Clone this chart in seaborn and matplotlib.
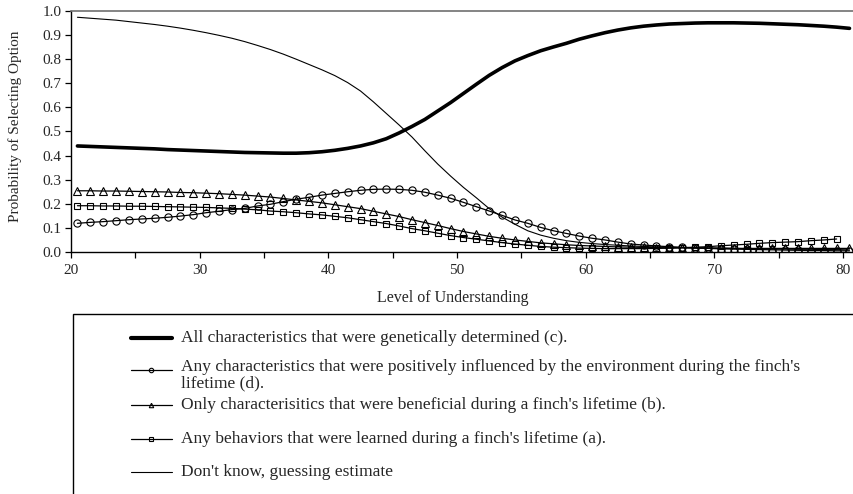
import numpy as np
import pandas as pd
import matplotlib
matplotlib.use("Agg")
import matplotlib.pyplot as plt
from matplotlib.lines import Line2D
from matplotlib.patches import Rectangle
from matplotlib.ticker import MultipleLocator, FormatStrFormatter
import seaborn as sns

# ---------------- data ----------------
level = np.arange(20.5, 81.0, 1.0)   # 20.5 ... 80.5

genetic_c = [0.440, 0.438, 0.436, 0.434, 0.432, 0.430, 0.428, 0.425, 0.423, 0.421,
             0.419, 0.417, 0.415, 0.413, 0.412, 0.411, 0.410, 0.410, 0.412, 0.416,
             0.422, 0.430, 0.440, 0.453, 0.470, 0.494, 0.521, 0.550, 0.585, 0.620,
             0.658, 0.696, 0.733, 0.765, 0.793, 0.815, 0.835, 0.851, 0.866, 0.883,
             0.897, 0.910, 0.921, 0.930, 0.937, 0.942, 0.946, 0.948, 0.950, 0.951,
             0.951, 0.951, 0.950, 0.949, 0.947, 0.945, 0.943, 0.940, 0.937, 0.933,
             0.928]

environment_d = [0.119, 0.123, 0.126, 0.130, 0.134, 0.137, 0.140, 0.144, 0.149, 0.155,
                 0.163, 0.169, 0.176, 0.181, 0.191, 0.198, 0.209, 0.219, 0.227, 0.236,
                 0.243, 0.250, 0.256, 0.260, 0.261, 0.260, 0.256, 0.248, 0.236, 0.223,
                 0.206, 0.188, 0.170, 0.152, 0.133, 0.119, 0.102, 0.088, 0.077, 0.066,
                 0.057, 0.050, 0.041, 0.033, 0.029, 0.025, 0.022, 0.019, 0.017, 0.015,
                 0.013, 0.012, 0.011, 0.010, 0.009, 0.008, 0.007, 0.006, 0.006, 0.005,
                 0.005]

beneficial_b = [0.254, 0.254, 0.253, 0.253, 0.252, 0.251, 0.250, 0.249, 0.247, 0.246,
                0.244, 0.242, 0.239, 0.236, 0.232, 0.228, 0.222, 0.216, 0.210, 0.204,
                0.196, 0.188, 0.180, 0.169, 0.158, 0.147, 0.134, 0.122, 0.110, 0.097,
                0.085, 0.075, 0.065, 0.057, 0.050, 0.044, 0.038, 0.034, 0.030, 0.027,
                0.025, 0.023, 0.021, 0.020, 0.019, 0.018, 0.017, 0.017, 0.016, 0.016,
                0.016, 0.015, 0.015, 0.015, 0.015, 0.015, 0.015, 0.015, 0.015, 0.015,
                0.015]

learned_a = [0.192, 0.192, 0.191, 0.191, 0.190, 0.190, 0.189, 0.188, 0.187, 0.186,
             0.185, 0.183, 0.181, 0.178, 0.175, 0.170, 0.167, 0.163, 0.158, 0.154,
             0.148, 0.142, 0.134, 0.126, 0.118, 0.108, 0.097, 0.088, 0.078, 0.068,
             0.060, 0.053, 0.046, 0.039, 0.033, 0.028, 0.023, 0.020, 0.018, 0.016,
             0.015, 0.014, 0.014, 0.014, 0.014, 0.015, 0.016, 0.018, 0.020, 0.022,
             0.026, 0.029, 0.032, 0.036, 0.039, 0.041, 0.043, 0.047, 0.050, 0.054,
             np.nan]

dont_know = [0.974, 0.970, 0.966, 0.962, 0.956, 0.950, 0.944, 0.937, 0.929, 0.920,
             0.910, 0.899, 0.887, 0.873, 0.857, 0.840, 0.821, 0.800, 0.778, 0.756,
             0.732, 0.703, 0.668, 0.623, 0.575, 0.527, 0.477, 0.420, 0.365, 0.315,
             0.268, 0.225, 0.180, 0.145, 0.115, 0.088, 0.070, 0.057, 0.047, 0.040,
             0.035, 0.031, 0.028, 0.025, 0.023, 0.021, 0.020, 0.019, 0.018, 0.017,
             0.016, 0.015, 0.014, 0.013, 0.012, 0.012, 0.011, 0.011, 0.010, 0.010,
             0.009]

labels = [
    "All characteristics that were genetically determined (c).",
    "Any characteristics that were positively influenced by the environment during the finch's\nlifetime (d).",
    "Only characterisitics that were beneficial during a finch's lifetime (b).",
    "Any behaviors that were learned during a finch's lifetime (a).",
    "Don't know, guessing estimate",
]

x_ticks = [20, 30, 40, 50, 60, 70, 80]
y_ticks = [0.0, 0.1, 0.2, 0.3, 0.4, 0.5, 0.6, 0.7, 0.8, 0.9, 1.0]

# ---------------- styling ----------------
sns.set_style("ticks")
plt.rcParams["font.family"] = ["Liberation Serif", "DejaVu Serif"]

W, H = 854, 494
fig = plt.figure(figsize=(W / 100, H / 100), dpi=100)
ax = fig.add_axes([71 / W, 242 / H, (W - 71) / W, 241 / H])

series = [
    (genetic_c, dict(lw=2.6, marker=None)),
    (environment_d, dict(lw=0.9, marker="o", markersize=5.2)),
    (beneficial_b, dict(lw=0.9, marker="^", markersize=5.2)),
    (learned_a, dict(lw=0.9, marker="s", markersize=4.8)),
    (dont_know, dict(lw=0.8, marker=None)),
]

for vals, kw in series:
    df = pd.DataFrame({"level": level, "prob": vals}).dropna()
    extra = {}
    if kw["marker"] is not None:
        extra = dict(marker=kw["marker"], markersize=kw["markersize"],
                     markerfacecolor="none", markeredgecolor="black",
                     markeredgewidth=0.8)
    sns.lineplot(data=df, x="level", y="prob", ax=ax, color="black",
                 lw=kw["lw"], legend=False, **extra)

ax.set_xlim(20, 80.85)
ax.set_ylim(0, 1.0)
ax.set_xticks(x_ticks)
ax.xaxis.set_minor_locator(MultipleLocator(5))
ax.set_yticks(y_ticks)
ax.yaxis.set_major_formatter(FormatStrFormatter("%.1f"))
ax.tick_params(axis="both", which="both", direction="out", length=4,
               width=0.9, color="black", labelsize=11, pad=5)
ax.tick_params(axis="y", pad=3)

for s in ["left", "bottom"]:
    ax.spines[s].set_color("black")
    ax.spines[s].set_linewidth(1.0)
ax.spines["right"].set_visible(False)
ax.spines["top"].set_visible(True)
ax.spines["top"].set_color("#707070")
ax.spines["top"].set_linewidth(1.2)

ax.set_xlabel("Level of Understanding", fontsize=11.5)
ax.xaxis.set_label_coords((453 - 71) / (W - 71), (252 - 290) / 241)
ax.set_ylabel("Probability of Selecting Option", fontsize=11)
ax.yaxis.set_label_coords((22 - 71) / (W - 71), (252 - 126) / 241)

# ---------------- legend box (partly cut off by the figure edge) ----------------
def fx(px):
    return px / W

def fy(py):
    return 1 - py / H

frame = Rectangle((fx(73), fy(540)), fx(900) - fx(73), fy(314) - fy(540),
                  transform=fig.transFigure, facecolor="none",
                  edgecolor="black", linewidth=1.0, clip_on=False)
fig.add_artist(frame)

legend_y = [338, 370, 405, 439, 472]
handle_kw = [
    dict(lw=3.0),
    dict(lw=0.9, marker="o", markersize=3.2, markerfacecolor="none",
         markeredgecolor="black", markeredgewidth=0.8),
    dict(lw=0.9, marker="^", markersize=3.2, markerfacecolor="none",
         markeredgecolor="black", markeredgewidth=0.8),
    dict(lw=0.9, marker="s", markersize=3.0, markerfacecolor="none",
         markeredgecolor="black", markeredgewidth=0.8),
    dict(lw=0.8),
]
for yy, lab, hk in zip(legend_y, labels, handle_kw):
    line = Line2D([fx(131), fx(151), fx(172)], [fy(yy)] * 3, color="black",
                  transform=fig.transFigure, markevery=[1], **hk)
    fig.add_artist(line)
    if "\n" in lab:
        fig.text(fx(181), fy(yy - 11), lab, fontsize=12.5, va="top", ha="left",
                 linespacing=1.05)
    else:
        fig.text(fx(181), fy(yy), lab, fontsize=12.5, va="center", ha="left")

fig.savefig("out.png", dpi=100)
